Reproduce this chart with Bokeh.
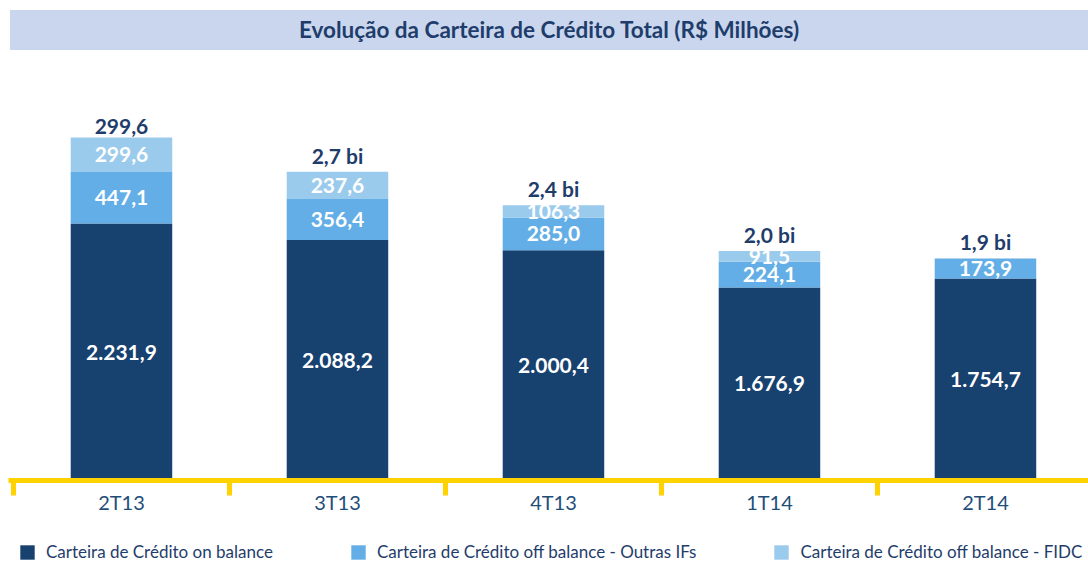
from bokeh.plotting import figure
from bokeh.models import (Range1d, FixedTicker, Legend, LegendItem, ColumnDataSource, Div)
from bokeh.layouts import column
from bokeh.core.properties import value
from bokeh.embed import file_html
from bokeh.resources import INLINE

# ---- data ----
quarters = ["2T13", "3T13", "4T13", "1T14", "2T14"]
on_balance = [2231.9, 2088.2, 2000.4, 1676.9, 1754.7]
outras_ifs = [447.1, 356.4, 285.0, 224.1, 173.9]
fidc = [299.6, 237.6, 106.3, 91.5, 0.0]
total_labels = ["299,6", "2,7 bi", "2,4 bi", "2,0 bi", "1,9 bi"]
series_names = ["Carteira de Crédito on balance",
                "Carteira de Crédito off balance - Outras IFs",
                "Carteira de Crédito off balance - FIDC"]
title_text = "Evolução da Carteira de Crédito Total (R$ Milhões)"

colors = ["#17416F", "#63AEE6", "#9BCBEC"]
navy = "#1F3D6B"
yellow = "#FFD200"
FONT = "Lato"


def br(v):
    s = f"{v:,.1f}"
    return s.replace(",", "X").replace(".", ",").replace("X", ".")


# ---- title band ----
title = Div(text=f'<div style="width:1078px;height:40px;line-height:40px;background:#C9D6EE;'
                 f'text-align:center;font-family:{FONT};font-weight:bold;font-size:22.5px;'
                 f'color:{navy};">{title_text}</div>',
            width=1078, height=40, margin=(10, 0, 0, 10))

# ---- main chart ----
x = list(range(len(quarters)))
src = ColumnDataSource(dict(x=x, on=on_balance, outras=outras_ifs, fidc=fidc))

p = figure(width=1080, height=466, output_backend="svg", toolbar_location=None,
           x_range=Range1d(-0.523, len(quarters) - 0.523),
           y_range=Range1d(0, 3735),
           min_border_left=0, min_border_right=0, min_border_top=0, min_border_bottom=0,
           margin=(0, 0, 0, 8))
p.outline_line_color = None
p.grid.visible = False
p.yaxis.visible = False

rs = p.vbar_stack(["on", "outras", "fidc"], x="x", width=0.47, source=src,
                  color=colors, line_color=None)

lx, ly, lt = [], [], []
for i in x:
    base = 0.0
    for vals in (on_balance, outras_ifs, fidc):
        v = vals[i]
        if v > 0:
            lx.append(i)
            ly.append(base + v / 2)
            lt.append(br(v))
        base += v
p.text(x=lx, y=ly, text=lt, text_align="center", text_baseline="middle",
       text_color="white", text_font=value(FONT), text_font_style="bold",
       text_font_size="21px")

totals = [a + b + c for a, b, c in zip(on_balance, outras_ifs, fidc)]
p.text(x=x, y=totals, text=total_labels, text_align="center", text_baseline="bottom",
       y_offset=-4, text_color=navy, text_font=value(FONT), text_font_style="bold",
       text_font_size="21px")

ax = p.xaxis[0]
ax.ticker = FixedTicker(ticks=x, minor_ticks=[i - 0.5 for i in range(len(quarters) + 1)])
ax.major_label_overrides = {i: q for i, q in enumerate(quarters)}
ax.axis_line_color = yellow
ax.axis_line_width = 5
ax.major_tick_line_color = None
ax.major_tick_out = 0
ax.major_tick_in = 0
ax.minor_tick_line_color = yellow
ax.minor_tick_line_width = 5
ax.minor_tick_out = 15
ax.minor_tick_in = 0
ax.major_label_standoff = -6
ax.major_label_text_font = FONT
ax.major_label_text_font_size = "20px"
ax.major_label_text_color = "#1F4E79"

# ---- legend strip ----
pl = figure(width=1080, height=46, output_backend="svg", toolbar_location=None,
            x_range=Range1d(0, 1), y_range=Range1d(0, 1),
            x_axis_type=None, y_axis_type=None,
            min_border_left=0, min_border_right=0, min_border_top=0, min_border_bottom=0,
            margin=(0, 0, 0, 8))
pl.outline_line_color = None
pl.grid.visible = False
# swatch renderers kept outside the visible range; only their legend glyphs show
swatches = [pl.vbar(x=[5], top=[1], width=0.5, color=c, line_color=None) for c in colors]
legend = Legend(items=[LegendItem(label=n, renderers=[r]) for n, r in zip(series_names, swatches)],
                orientation="horizontal", location=(10, 0),
                glyph_width=18, glyph_height=18, label_standoff=10, spacing=76,
                padding=0, margin=0, border_line_color=None,
                label_text_font=FONT, label_text_font_size="17px",
                label_text_color=navy, background_fill_alpha=0, label_height=18)
pl.add_layout(legend)

layout = column(title, p, pl, spacing=0)
open("out.html", "w").write(file_html(layout, INLINE))
